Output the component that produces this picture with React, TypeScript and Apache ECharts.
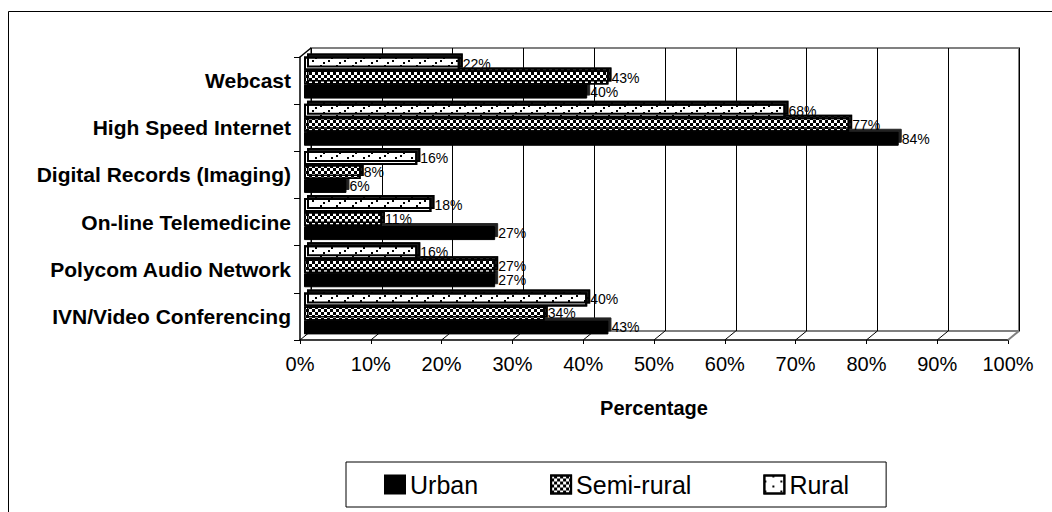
import React, { useEffect, useRef } from "react";
import * as echarts from "echarts";

// Categories listed bottom-up (ECharts y category axis runs from bottom to top)
const categories = [
  "IVN/Video Conferencing",
  "Polycom Audio Network",
  "On-line Telemedicine",
  "Digital Records (Imaging)",
  "High Speed Internet",
  "Webcast",
];
const urban = [43, 27, 27, 6, 84, 40];
const semiRural = [34, 27, 11, 8, 77, 43];
const rural = [40, 16, 18, 16, 68, 22];
const seriesNames = ["Urban", "Semi-rural", "Rural"];
const xTicks = [0, 10, 20, 30, 40, 50, 60, 70, 80, 90, 100];
const axisTitle = "Percentage";

const FONT = "'Liberation Sans', Arial, sans-serif";

export default function App() {
  const ref = useRef<HTMLDivElement>(null);

  useEffect(() => {
    document.body.style.margin = "0";
    if (!ref.current) return;
    const chart = echarts.init(ref.current, null, { renderer: "svg" });

    const barLabel = {
      show: true,
      position: "right" as const,
      distance: 3,
      formatter: "{c}%",
      color: "#000",
      fontSize: 14,
      fontFamily: FONT,
    };
    const shadow = {
      shadowColor: "#222",
      shadowBlur: 0,
      shadowOffsetX: 3,
      shadowOffsetY: -3,
    };

    const option: any = {
      animation: false,
      backgroundColor: "#fff",
      textStyle: { fontFamily: FONT },
      graphic: [
        {
          type: "rect",
          left: 6,
          top: 9,
          shape: { x: 0, y: 0, width: 1100, height: 600 },
          style: { fill: "none", stroke: "#000", lineWidth: 1 },
          silent: true,
        },
      ],
      legend: {
        data: seriesNames,
        left: 346,
        top: 462,
        orient: "horizontal",
        padding: [10, 37, 10, 38],
        itemGap: 72,
        itemWidth: 20,
        itemHeight: 18,
        borderColor: "#000",
        borderWidth: 1,
        icon: "rect",
        textStyle: { fontSize: 25, color: "#000", fontFamily: FONT, lineHeight: 25 },
      },
      grid: [
        // front plane (axes, labels)
        { left: 300, top: 57, width: 708, height: 283, containLabel: false },
        // bars (middle depth)
        { left: 304, top: 54, width: 708, height: 283, containLabel: false },
        // back wall
        {
          left: 311,
          top: 48,
          width: 708,
          height: 283,
          show: true,
          borderColor: "#808080",
          borderWidth: 2,
          backgroundColor: "transparent",
          z: 0,
        },
      ],
      xAxis: [
        {
          gridIndex: 0,
          type: "value",
          min: 0,
          max: 100,
          interval: 10,
          name: axisTitle,
          nameLocation: "middle",
          nameGap: 58,
          nameTextStyle: { fontSize: 20, fontWeight: "bold", color: "#000", fontFamily: FONT },
          axisLine: { show: true, lineStyle: { color: "#000", width: 1.5 } },
          axisTick: { show: true, length: 4, lineStyle: { color: "#000" } },
          axisLabel: { formatter: "{value}%", fontSize: 20, color: "#000", margin: 14, fontFamily: FONT },
          splitLine: { show: false },
        },
        {
          gridIndex: 1,
          type: "value",
          min: 0,
          max: 100,
          interval: 10,
          show: false,
        },
        {
          gridIndex: 2,
          type: "value",
          min: 0,
          max: 100,
          interval: 10,
          axisLine: { show: false },
          axisTick: { show: false },
          axisLabel: { show: false },
          splitLine: { show: true, lineStyle: { color: "#000", width: 1 } },
        },
      ],
      yAxis: [
        {
          gridIndex: 0,
          type: "category",
          data: categories,
          axisLine: { show: true, lineStyle: { color: "#000", width: 1.5 } },
          axisTick: { show: true, length: 6, lineStyle: { color: "#000" } },
          axisLabel: { fontSize: 21, fontWeight: "bold", color: "#000", margin: 9, fontFamily: FONT },
          splitLine: { show: false },
        },
        { gridIndex: 1, type: "category", data: categories, show: false },
        { gridIndex: 2, type: "category", data: categories, show: false },
      ],
      series: [
        {
          type: "custom",
          name: "floor",
          xAxisIndex: 0,
          yAxisIndex: 0,
          silent: true,
          clip: false,
          z: 1,
          data: xTicks.map((v) => [v, 0]),
          renderItem: (params: any, api: any) => {
            const v = api.value(0);
            const p = api.coord([v, 0]);
            const band = api.size([0, 1])[1];
            const y = p[1] + band / 2;
            const children: any[] = [
              {
                type: "line",
                shape: { x1: p[0], y1: y, x2: p[0] + 11, y2: y - 9 },
                style: { stroke: v === 100 ? "#808080" : "#000", lineWidth: v === 100 ? 2 : 1 },
              },
            ];
            if (v === 0) {
              const top = api.coord([0, categories.length - 1]);
              const yt = top[1] - band / 2;
              children.push({
                type: "line",
                shape: { x1: p[0], y1: yt, x2: p[0] + 11, y2: yt - 9 },
                style: { stroke: "#000", lineWidth: 1.5 },
              });
            }
            return { type: "group", children };
          },
        },
        // Listed top-down within each band: Rural (top), Semi-rural, Urban (bottom)
        {
          name: "Rural",
          type: "bar",
          xAxisIndex: 1,
          yAxisIndex: 1,
          data: rural,
          barWidth: 14,
          barGap: "0%",
          z: 4,
          itemStyle: {
            color: "#fff",
            borderColor: "#000",
            borderWidth: 2,
            ...shadow,
            decal: {
              symbol: "rect",
              symbolSize: 1,
              color: "#000",
              dashArrayX: [
                [1.5, 13.5],
                [0, 7.5, 1.5, 6],
              ],
              dashArrayY: [1.5, 3],
              rotation: 0,
            },
          },
          label: barLabel,
        },
        {
          name: "Semi-rural",
          type: "bar",
          xAxisIndex: 1,
          yAxisIndex: 1,
          data: semiRural,
          barWidth: 14,
          barGap: "0%",
          z: 3,
          itemStyle: {
            color: "#fff",
            borderColor: "#000",
            borderWidth: 1.5,
            ...shadow,
            decal: {
              symbol: "rect",
              symbolSize: 1,
              color: "#000",
              dashArrayX: [
                [3, 3],
                [0, 3, 3, 0],
              ],
              dashArrayY: [3, 0],
              rotation: 0,
            },
          },
          label: barLabel,
        },
        {
          name: "Urban",
          type: "bar",
          xAxisIndex: 1,
          yAxisIndex: 1,
          data: urban,
          barWidth: 14,
          barGap: "0%",
          z: 2,
          itemStyle: { color: "#000", borderColor: "#000", borderWidth: 1, ...shadow },
          label: barLabel,
        },
      ],
    };

    chart.setOption(option);
    return () => chart.dispose();
  }, []);

  return <div ref={ref} style={{ width: 1052, height: 512 }} />;
}
